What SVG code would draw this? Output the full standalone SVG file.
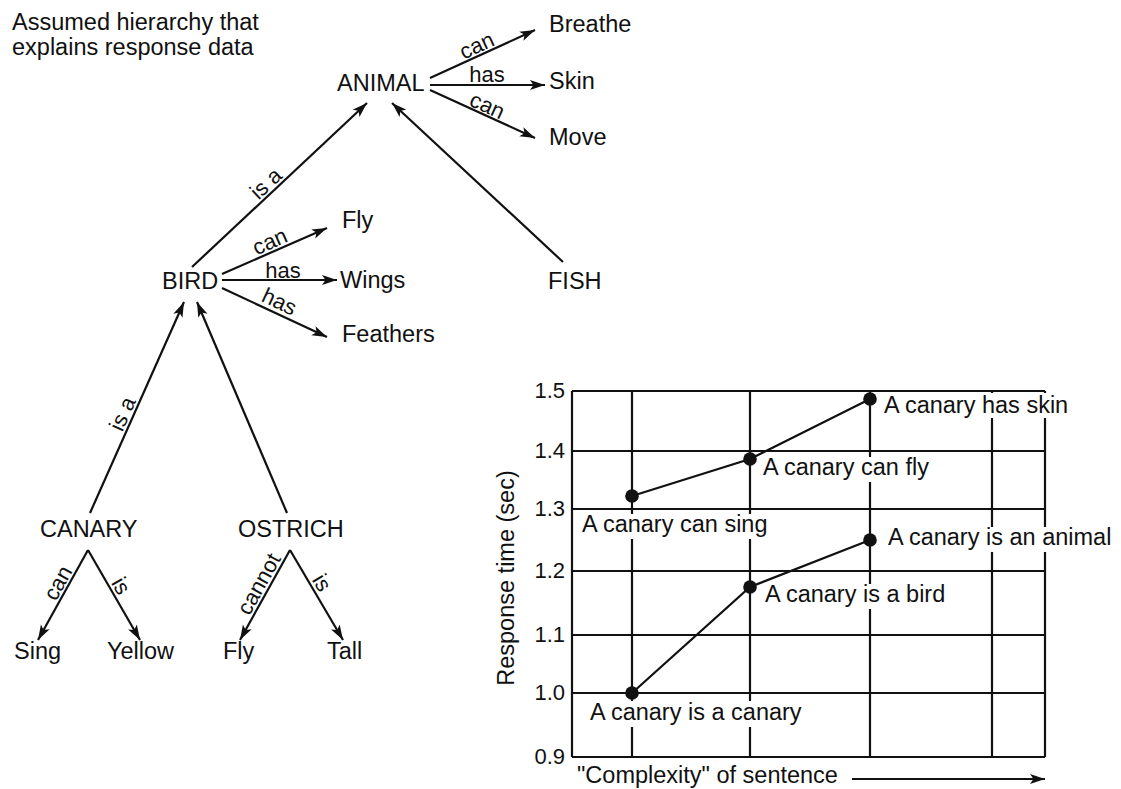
<svg xmlns="http://www.w3.org/2000/svg" width="1121" height="789" viewBox="0 0 1121 789">
<defs>
<marker id="ah" markerUnits="userSpaceOnUse" markerWidth="16" markerHeight="11" refX="15" refY="5.5" orient="auto">
<path d="M0,0.5 L15,5.5 L0,10.5 L3.5,5.5 Z" fill="#111"/>
</marker>
<style>
text{font-family:"Liberation Sans",Arial,sans-serif;fill:#111}
.n{font-size:23.5px}
.l{font-size:22px}
.c{font-size:23.5px}
.ax{font-size:22px;text-anchor:end}
.e{stroke:#111;stroke-width:2.2;fill:none}
.a{stroke:#111;stroke-width:2.2;fill:none;marker-end:url(#ah)}
.g{stroke:#111;stroke-width:2.2;fill:none}
.bg{fill:#fff}
</style>
</defs>
<rect width="1121" height="789" fill="#fff"/>

<text class="n" x="12" y="30">Assumed hierarchy that</text>
<text class="n" x="12" y="55">explains response data</text>

<g id="connectors">
<line class="a" x1="430" y1="78" x2="535" y2="30"/>
<line class="a" x1="430" y1="85" x2="545" y2="85"/>
<line class="a" x1="430" y1="90" x2="535" y2="138"/>
<line class="a" x1="192" y1="267" x2="367" y2="103"/>
<line class="a" x1="563" y1="262" x2="392" y2="103"/>
<line class="a" x1="222" y1="274" x2="327" y2="228"/>
<line class="a" x1="222" y1="280" x2="337" y2="280"/>
<line class="a" x1="222" y1="288" x2="327" y2="337"/>
<line class="a" x1="90" y1="513" x2="184" y2="302"/>
<line class="a" x1="287" y1="513" x2="197" y2="302"/>
<line class="a" x1="88" y1="550" x2="38" y2="640"/>
<line class="a" x1="88" y1="550" x2="140" y2="640"/>
<line class="a" x1="290" y1="550" x2="240" y2="640"/>
<line class="a" x1="290" y1="550" x2="343" y2="640"/>
<text class="l" transform="translate(481,55) rotate(-24.6)" x="0" y="-3" text-anchor="middle">can</text>
<text class="l" x="487" y="82" text-anchor="middle">has</text>
<text class="l" transform="translate(483,115) rotate(24.6)" x="0" y="-3" text-anchor="middle">can</text>
<text class="l" transform="translate(273,191) rotate(-43.1)" x="0" y="-3" text-anchor="middle">is a</text>
<text class="l" transform="translate(274,251) rotate(-23.7)" x="0" y="-3" text-anchor="middle">can</text>
<text class="l" x="283" y="278" text-anchor="middle">has</text>
<text class="l" transform="translate(275,311) rotate(25)" x="0" y="-3" text-anchor="middle">has</text>
<text class="l" transform="translate(132,418) rotate(-65.8)" x="0" y="-3" text-anchor="middle">is a</text>
<text class="l" transform="translate(67,588) rotate(-60.9)" x="0" y="-3" text-anchor="middle">can</text>
<text class="l" transform="translate(112,591) rotate(60)" x="0" y="-3" text-anchor="middle">is</text>
<text class="l" transform="translate(268,589) rotate(-60.9)" x="0" y="-3" text-anchor="middle">cannot</text>
<text class="l" transform="translate(313,588) rotate(59.5)" x="0" y="-3" text-anchor="middle">is</text>
</g>

<g id="animal"><text class="n" x="337" y="91">ANIMAL</text></g>
<g id="breathe"><text class="n" x="549" y="32">Breathe</text></g>
<g id="skin"><text class="n" x="549" y="89">Skin</text></g>
<g id="move"><text class="n" x="549" y="145">Move</text></g>
<g id="bird"><text class="n" x="162" y="289">BIRD</text></g>
<g id="fly-bird"><text class="n" x="342" y="228">Fly</text></g>
<g id="wings"><text class="n" x="340" y="288">Wings</text></g>
<g id="feathers"><text class="n" x="342" y="342">Feathers</text></g>
<g id="fish"><text class="n" x="548" y="289">FISH</text></g>
<g id="canary"><text class="n" x="40" y="537">CANARY</text></g>
<g id="ostrich"><text class="n" x="238" y="537">OSTRICH</text></g>
<g id="sing"><text class="n" x="14" y="659">Sing</text></g>
<g id="yellow"><text class="n" x="107" y="659">Yellow</text></g>
<g id="fly-ostrich"><text class="n" x="223" y="659">Fly</text></g>
<g id="tall"><text class="n" x="327" y="659">Tall</text></g>

<g id="chart">
<g class="g">
<line x1="572" y1="391" x2="1045" y2="391"/>
<line x1="572" y1="451" x2="1045" y2="451"/>
<line x1="572" y1="509" x2="1045" y2="509"/>
<line x1="572" y1="571" x2="1045" y2="571"/>
<line x1="572" y1="635" x2="1045" y2="635"/>
<line x1="572" y1="693" x2="1045" y2="693"/>
<line x1="572" y1="757" x2="1045" y2="757"/>
<line x1="572" y1="391" x2="572" y2="757"/>
<line x1="632" y1="391" x2="632" y2="757"/>
<line x1="750" y1="391" x2="750" y2="757"/>
<line x1="870" y1="391" x2="870" y2="757"/>
<line x1="992" y1="391" x2="992" y2="757"/>
<line x1="1045" y1="391" x2="1045" y2="757"/>
</g>
<text class="ax" x="565" y="398">1.5</text>
<text class="ax" x="565" y="458">1.4</text>
<text class="ax" x="565" y="516">1.3</text>
<text class="ax" x="565" y="578">1.2</text>
<text class="ax" x="565" y="642">1.1</text>
<text class="ax" x="565" y="700">1.0</text>
<text class="ax" x="565" y="764">0.9</text>
<text class="c" transform="translate(514,578) rotate(-90)" text-anchor="middle">Response time (sec)</text>
<text class="c" x="577" y="783">"Complexity" of sentence</text>
<line class="a" x1="852" y1="779" x2="1045" y2="779"/>

<rect class="bg" x="881" y="393" width="194" height="25"/>
<rect class="bg" x="760" y="457" width="172" height="25"/>
<rect class="bg" x="579" y="514" width="184" height="25"/>
<rect class="bg" x="885" y="527" width="236" height="25"/>
<rect class="bg" x="762" y="584" width="186" height="25"/>
<rect class="bg" x="587" y="701" width="218" height="26"/>
<text class="c" x="884" y="413">A canary has skin</text>
<text class="c" x="763" y="475">A canary can fly</text>
<text class="c" x="582" y="532">A canary can sing</text>
<text class="c" x="888" y="545">A canary is an animal</text>
<text class="c" x="765" y="602">A canary is a bird</text>
<text class="c" x="590" y="720">A canary is a canary</text>

<polyline class="e" points="632,693 750,587 870,540"/>
<polyline class="e" points="632,496 750,459 870,399"/>
<g fill="#111">
<circle cx="632" cy="693" r="6.8"/>
<circle cx="750" cy="587" r="6.8"/>
<circle cx="870" cy="540" r="6.8"/>
<circle cx="632" cy="496" r="6.8"/>
<circle cx="750" cy="459" r="6.8"/>
<circle cx="870" cy="399" r="6.8"/>
</g>
</g>
</svg>
